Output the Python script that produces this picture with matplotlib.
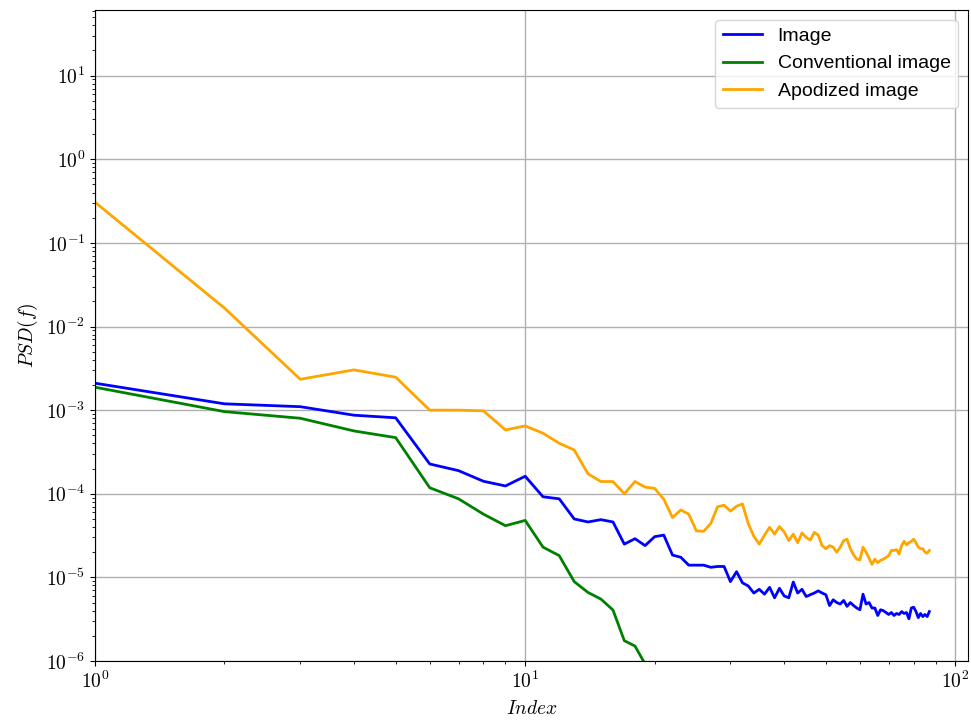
import numpy as np
import matplotlib
matplotlib.use("Agg")
import matplotlib.pyplot as plt
from matplotlib.ticker import FuncFormatter, NullFormatter

plt.rcParams['mathtext.fontset'] = 'cm'

# PSD values, index 1..87
image_psd = [2.1e-3, 1.19e-3, 1.1e-3, 8.7e-4, 8.1e-4, 2.27e-4, 1.89e-4, 1.41e-4, 1.24e-4, 1.62e-4,
             9.2e-5, 8.7e-5, 5.0e-5, 4.6e-5, 4.9e-5, 4.6e-5, 2.5e-5, 2.9e-5, 2.4e-5, 3.07e-5,
             3.2e-5, 1.85e-5, 1.74e-5, 1.4e-5, 1.4e-5, 1.4e-5, 1.32e-5, 1.35e-5, 1.35e-5, 8.9e-6,
             1.17e-5, 8.6e-6, 7.9e-6, 6.5e-6, 7.2e-6, 6.3e-6, 7.6e-6, 5.7e-6, 7.4e-6, 6.0e-6,
             5.7e-6, 8.8e-6, 6.5e-6, 7.2e-6, 5.9e-6, 6.2e-6, 6.5e-6, 6.9e-6, 6.5e-6, 6.2e-6,
             4.6e-6, 5.4e-6, 5.0e-6, 4.8e-6, 5.3e-6, 4.5e-6, 5.0e-6, 4.6e-6, 4.3e-6, 4.1e-6,
             6.3e-6, 4.8e-6, 5.0e-6, 4.3e-6, 4.3e-6, 3.5e-6, 4.1e-6, 4.0e-6, 3.8e-6, 3.6e-6,
             3.8e-6, 3.5e-6, 3.7e-6, 3.6e-6, 3.9e-6, 3.7e-6, 3.8e-6, 3.2e-6, 4.3e-6, 4.4e-6,
             3.9e-6, 3.3e-6, 3.7e-6, 3.4e-6, 3.6e-6, 3.4e-6, 3.9e-6]

conventional_psd = [1.88e-3, 9.6e-4, 8.0e-4, 5.64e-4, 4.69e-4, 1.18e-4, 8.7e-5, 5.7e-5, 4.15e-5, 4.8e-5,
                    2.3e-5, 1.82e-5, 8.9e-6, 6.6e-6, 5.5e-6, 4.07e-6, 1.75e-6, 1.51e-6, 9.2e-7, 6.5e-7,
                    4.8e-7, 3.9e-7]

apodized_psd = [0.307, 1.66e-2, 2.34e-3, 3.03e-3, 2.48e-3, 1.0e-3, 1.0e-3, 9.8e-4, 5.8e-4, 6.47e-4,
                5.3e-4, 4.02e-4, 3.34e-4, 1.73e-4, 1.4e-4, 1.4e-4, 1.0e-4, 1.4e-4, 1.2e-4, 1.16e-4,
                8.6e-5, 5.2e-5, 6.4e-5, 5.7e-5, 3.6e-5, 3.56e-5, 4.4e-5, 7.0e-5, 7.3e-5, 6.2e-5,
                7.1e-5, 7.55e-5, 4.4e-5, 3.1e-5, 2.5e-5, 3.2e-5, 3.97e-5, 3.3e-5, 4.05e-5, 3.5e-5,
                2.75e-5, 3.3e-5, 2.6e-5, 3.4e-5, 3.0e-5, 2.8e-5, 3.45e-5, 3.2e-5, 2.4e-5, 2.2e-5,
                2.4e-5, 2.3e-5, 2.0e-5, 2.3e-5, 2.75e-5, 2.86e-5, 2.2e-5, 1.86e-5, 1.65e-5, 1.62e-5,
                2.3e-5, 2.0e-5, 1.7e-5, 1.43e-5, 1.65e-5, 1.5e-5, 1.6e-5, 1.65e-5, 1.73e-5, 1.82e-5,
                2.1e-5, 2.1e-5, 2.15e-5, 1.9e-5, 2.4e-5, 2.7e-5, 2.45e-5, 2.6e-5, 2.7e-5, 2.86e-5,
                2.6e-5, 2.3e-5, 2.2e-5, 2.2e-5, 2.0e-5, 1.95e-5, 2.1e-5]

idx = np.arange(1, len(image_psd) + 1)
idx_conv = np.arange(1, len(conventional_psd) + 1)

fig = plt.figure(figsize=(9.71, 7.22), dpi=100)
ax = fig.add_axes([95 / 971, 1 - 661 / 722, (968 - 95) / 971, (661 - 10) / 722])

ax.plot(idx, image_psd, color='blue', lw=2, label='Image')
ax.plot(idx_conv, conventional_psd, color='green', lw=2, label='Conventional image')
ax.plot(idx, apodized_psd, color='orange', lw=2, label='Apodized image')

ax.set_xscale('log')
ax.set_yscale('log')
ax.set_xlim(1, 107)
ax.set_ylim(1e-6, 61)

# tick labels in computer modern like the original
pow_fmt = FuncFormatter(lambda v, pos: r'$10^{%d}$' % round(np.log10(v)))
ax.xaxis.set_major_formatter(pow_fmt)
ax.yaxis.set_major_formatter(pow_fmt)
ax.xaxis.set_minor_formatter(NullFormatter())
ax.yaxis.set_minor_formatter(NullFormatter())

ax.grid(True, which='major', color='#b0b0b0', lw=1)
ax.tick_params(labelsize=14)
ax.set_xlabel('$Index$', fontsize=14, labelpad=5)
ax.set_ylabel('$PSD(f)$', fontsize=14)

leg = ax.legend(loc='upper right', prop={'family': 'Liberation Sans', 'size': 14})

fig.savefig('out.png', dpi=100)
